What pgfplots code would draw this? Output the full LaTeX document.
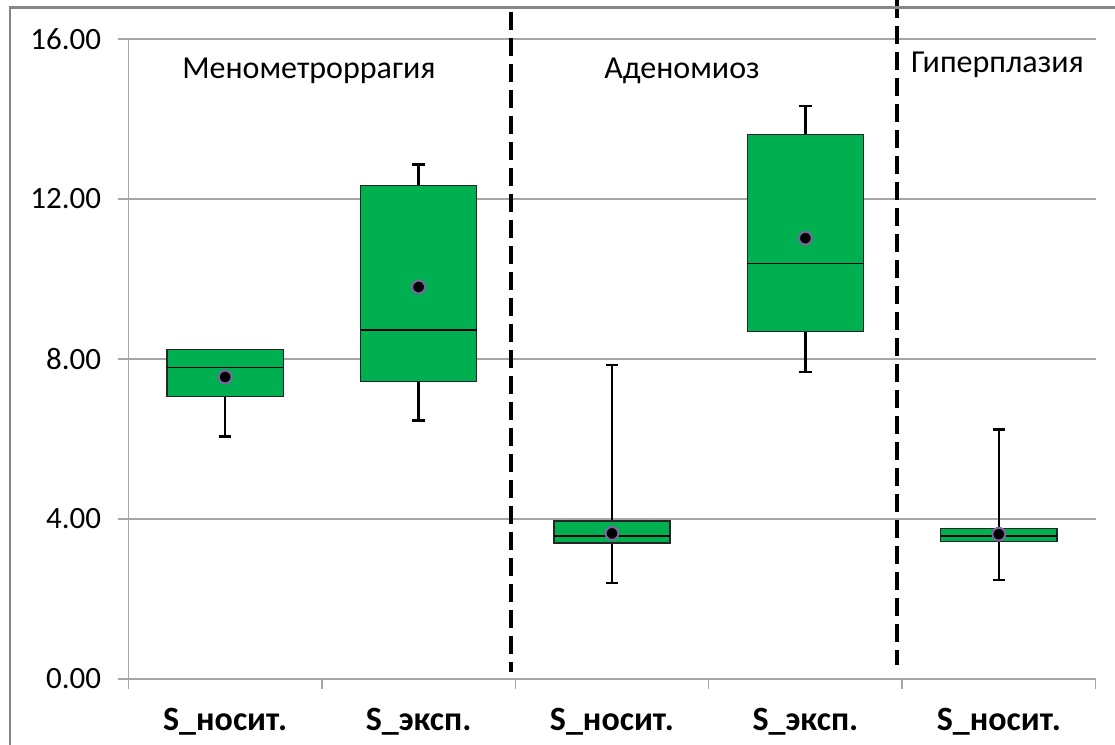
\documentclass[border=0pt]{standalone}
\usepackage{fontspec}
\setmainfont{Carlito}
\usepackage{pgfplots}
\pgfplotsset{compat=1.18}
\usepgfplotslibrary{statistics}

\definecolor{boxgreen}{HTML}{00B050}
\definecolor{gridgrey}{HTML}{A6A6A6}
\definecolor{framegrey}{HTML}{868686}
\definecolor{meanring}{HTML}{8064A2}

\begin{document}
\begin{tikzpicture}
\begin{axis}[
  at={(64.25pt,33pt)}, anchor=south west,
  scale only axis, width=483.5pt, height=320pt,
  xmin=-0.5, xmax=4.5, ymin=0, ymax=16,
  clip=false,
  axis x line*=bottom, axis y line*=left,
  axis line style={gridgrey, line width=0.75pt, -},
  ymajorgrids, major grid style={gridgrey, line width=0.75pt},
  ytick={0,4,8,12,16},
  /pgf/number format/fixed, /pgf/number format/fixed zerofill,
  /pgf/number format/precision=2, /pgf/number format/assume math mode=true,
  yticklabel style={font=\fontsize{15.5}{18}\selectfont, inner sep=0pt, anchor=east, xshift=-8.5pt},
  y tick style={gridgrey, line width=0.75pt},
  tick align=outside, major tick length=5pt, minor tick length=5pt,
  xtick={0,1,2,3,4},
  xticklabels={S\_носит., S\_эксп., S\_носит., S\_эксп., S\_носит.},
  xticklabel style={font=\bfseries\fontsize{17}{20}\selectfont, inner sep=0pt, anchor=base, yshift=-21pt},
  major x tick style={draw=none},
  minor xtick={-0.5,0.5,1.5,2.5,3.5,4.5},
  minor x tick style={gridgrey, line width=0.75pt},
  boxplot/draw direction=y,
  boxplot/every box/.style={fill=boxgreen, draw=black!85, line width=0.7pt},
  boxplot/every whisker/.style={black, line width=1.2pt},
  boxplot/every median/.style={black, line width=0.8pt},
  boxplot/box extend=0.6,
  boxplot/whisker extend=0.065,
]
% Менометроррагия (no upper whisker: maximum equals the upper quartile)
\addplot[boxplot prepared={draw position=0, lower whisker=6.06, lower quartile=7.06,
  median=7.79, upper quartile=8.24, upper whisker=8.24},
  /pgfplots/boxplot/draw/upper whisker/.code={}] coordinates {};
\addplot[boxplot prepared={draw position=1, lower whisker=6.46, lower quartile=7.44,
  median=8.73, upper quartile=12.34, upper whisker=12.86}] coordinates {};
% Аденомиоз
\addplot[boxplot prepared={draw position=2, lower whisker=2.40, lower quartile=3.40,
  median=3.57, upper quartile=3.95, upper whisker=7.85}] coordinates {};
\addplot[boxplot prepared={draw position=3, lower whisker=7.68, lower quartile=8.69,
  median=10.39, upper quartile=13.61, upper whisker=14.32}] coordinates {};
% Гиперплазия
\addplot[boxplot prepared={draw position=4, lower whisker=2.47, lower quartile=3.43,
  median=3.57, upper quartile=3.76, upper whisker=6.24}] coordinates {};
% means
\addplot[only marks, mark=*, mark size=3.2pt,
  mark options={fill=black, draw=meanring, line width=1pt}]
  coordinates {(0,7.55) (1,9.80) (2,3.64) (3,11.02) (4,3.62)};
% group separators
\draw[black, line width=2pt, dash pattern=on 9pt off 4pt] (axis cs:1.478,16.68) -- (axis cs:1.478,0.18);
\draw[black, line width=2pt, dash pattern=on 9pt off 4pt] (axis cs:3.476,16.97) -- (axis cs:3.476,0.35);
% group titles
\node[anchor=base, font=\fontsize{16}{19}\selectfont] at (axis cs:0.433,15.0) {Менометроррагия};
\node[anchor=base, font=\fontsize{16}{19}\selectfont] at (axis cs:2.362,15.0) {Аденомиоз};
\node[anchor=base, font=\fontsize{16}{19}\selectfont] at (axis cs:3.993,15.15) {Гиперплазия};
\end{axis}
% chart frame (left and top edges)
\draw[framegrey, line width=1.3pt] (5pt,0pt) -- (5pt,368.8pt) -- (557.5pt,368.8pt);
% page area (1 px = 0.5 pt)
\pgfresetboundingbox
\path[use as bounding box] (0pt,0pt) rectangle (557.5pt,372.5pt);
\end{tikzpicture}
\end{document}
